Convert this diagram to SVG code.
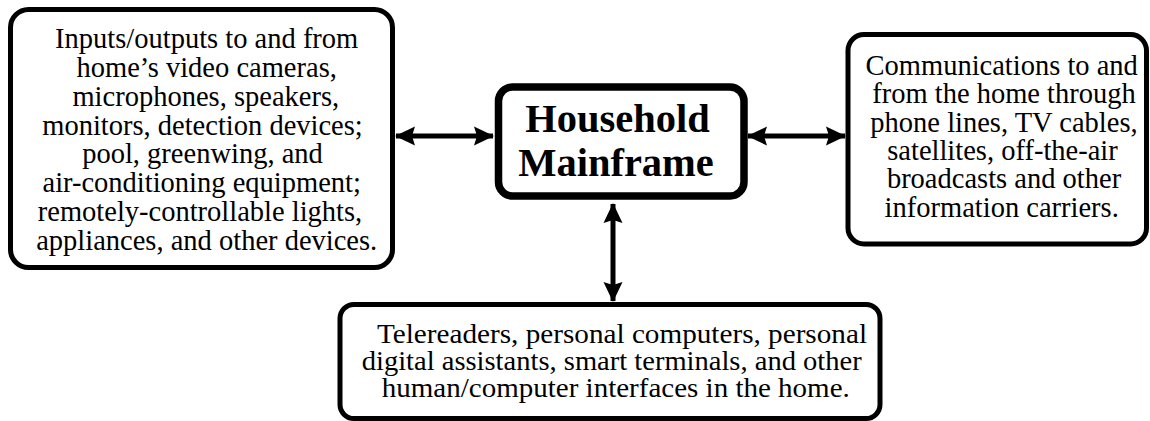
<svg xmlns="http://www.w3.org/2000/svg" width="1150" height="421" viewBox="0 0 1150 421">
<style>
.box{fill:#fff;stroke:#000;stroke-width:5}
.main{fill:#fff;stroke:#000;stroke-width:7.5}
.t{font-family:"Liberation Serif","Times New Roman",serif;font-size:28.5px;fill:#000;text-anchor:middle}
.ts{font-family:"Liberation Serif","Times New Roman",serif;font-size:26.3px;fill:#000;text-anchor:middle}
.tb{font-family:"Liberation Serif","Times New Roman",serif;font-size:40.5px;font-weight:bold;fill:#000;text-anchor:middle}
.conn{stroke:#000;stroke-width:5;fill:none;marker-start:url(#ah);marker-end:url(#ah)}
</style>
<defs>
<marker id="ah" markerUnits="userSpaceOnUse" markerWidth="20" markerHeight="20" refX="19" refY="9.5" orient="auto-start-reverse" viewBox="0 0 20 19">
<path d="M0,0 L20,9.5 L0,19 L3,9.5 z" fill="#000"/>
</marker>
</defs>
<rect width="1150" height="421" fill="#fff"/>
<g id="connectors">
<line class="conn" x1="396" y1="136" x2="493" y2="136"/>
<line class="conn" x1="748" y1="136" x2="845" y2="136"/>
<line class="conn" x1="613" y1="204" x2="613" y2="301"/>
</g>
<g id="node-inputs">
<rect class="box" x="10.5" y="9.5" width="382" height="258" rx="18"/>
<text class="t" x="206.7" y="48">Inputs/outputs to and from</text>
<text class="t" x="206.7" y="76.9">home’s video cameras,</text>
<text class="t" x="205.8" y="105.7">microphones, speakers,</text>
<text class="t" x="202.5" y="134.6">monitors, detection devices;</text>
<text class="t" x="202.5" y="163.4">pool, greenwing, and</text>
<text class="t" x="201.7" y="192.3">air-conditioning equipment;</text>
<text class="t" x="200" y="221.1">remotely-controllable lights,</text>
<text class="t" x="206.7" y="250">appliances, and other devices.</text>
</g>
<g id="node-mainframe">
<rect class="main" x="498.5" y="87" width="245.5" height="109" rx="14"/>
<text class="tb" x="617.5" y="132">Household</text>
<text class="tb" x="616" y="176">Mainframe</text>
</g>
<g id="node-communications">
<rect class="box" x="848" y="34.5" width="298.5" height="209.5" rx="16"/>
<text class="t" x="1001.7" y="75">Communications to and</text>
<text class="t" x="1004" y="103.3">from the home through</text>
<text class="t" x="1004" y="131.7">phone lines, TV cables,</text>
<text class="t" x="1002.5" y="160">satellites, off-the-air</text>
<text class="t" x="1004" y="188.3">broadcasts and other</text>
<text class="t" x="1001.7" y="216.7">information carriers.</text>
</g>
<g id="node-interfaces">
<rect class="box" x="340" y="304.5" width="540" height="114" rx="14"/>
<text class="ts" x="622" y="343.3" textLength="490" lengthAdjust="spacingAndGlyphs">Telereaders, personal computers, personal</text>
<text class="ts" x="611.7" y="370" textLength="500" lengthAdjust="spacingAndGlyphs">digital assistants, smart terminals, and other</text>
<text class="ts" x="615.8" y="396.7" textLength="468" lengthAdjust="spacingAndGlyphs">human/computer interfaces in the home.</text>
</g>
</svg>
